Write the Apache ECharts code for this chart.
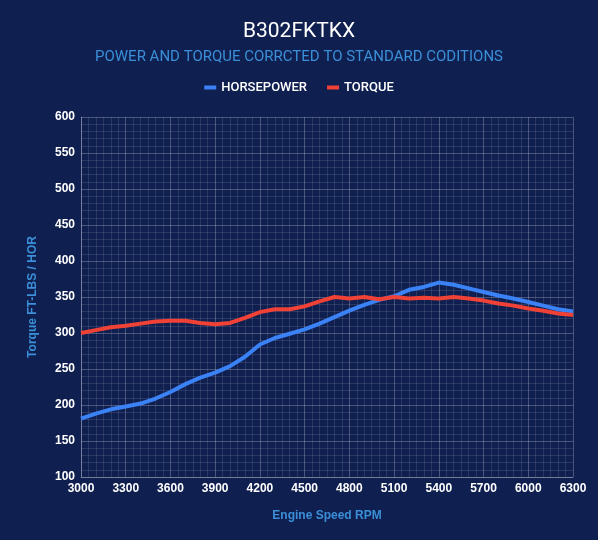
<!DOCTYPE html>
<html>
<head>
<meta charset="utf-8">
<script src="https://cdn.jsdelivr.net/npm/echarts@6/dist/echarts.min.js"></script>
<style>
html,body{margin:0;padding:0;background:#0f1f4f;}
#c{width:598px;height:540px;}
</style>
</head>
<body>
<div id="c"></div>
<script>
const rpm = [3000,3100,3200,3300,3400,3500,3600,3700,3800,3900,4000,4100,4200,4300,4400,4500,4600,4700,4800,4900,5000,5100,5200,5300,5400,5500,5600,5700,5800,5900,6000,6100,6200,6300];
const horsepower = [181,188,194,198,202,209,218,229,238,245,254,267,284,293,299,305,313,322,331,339,346,351,360,364,370,367,362,357,352,348,343,338,333,330];
const torque = [300,304,308,310,313,316,317,317,314,312,314,321,329,333,333,337,344,350,348,350,347,350,348,349,348,350,348,345,341,338,334,331,327,325];
const xTicks = {min:3000, max:6300, interval:300};
const yTicks = {min:100, max:600, interval:50};

const toPairs = (ys) => rpm.map((r,i)=>[r,ys[i]]);
const chart = echarts.init(document.getElementById('c'));
const major = 'rgba(255,255,255,0.24)';
const minor = 'rgba(255,255,255,0.11)';
chart.setOption({
  backgroundColor:'#0f1f4f',
  animation:false,
  title:{
    text:'B302FKTKX',
    subtext:'POWER AND TORQUE CORRCTED TO STANDARD CODITIONS',
    left:'center', top:16, itemGap:8,
    textStyle:{color:'#ffffff',fontSize:21,fontWeight:'normal',fontFamily:'Roboto'},
    subtextStyle:{color:'#3b8fd8',fontSize:15,fontFamily:'Roboto'}
  },
  legend:{
    top:76, left:'center', itemWidth:12, itemHeight:4, itemGap:20,
    icon:'rect',
    textStyle:{color:'#ffffff',fontSize:13,fontWeight:'500',fontFamily:'Roboto'},
    data:['HORSEPOWER','TORQUE']
  },
  grid:{left:81,right:25,top:117,bottom:63},
  xAxis:{
    type:'value', min:xTicks.min, max:xTicks.max, interval:xTicks.interval,
    name:'Engine Speed RPM', nameLocation:'middle', nameGap:33,
    nameTextStyle:{color:'#3b8fd8',fontSize:12,fontWeight:'bold',fontFamily:'Liberation Sans'},
    axisLine:{show:true,lineStyle:{color:major}},
    axisTick:{show:false},
    axisLabel:{color:'#ffffff',fontSize:12,fontWeight:'bold',fontFamily:'Liberation Sans',margin:6,
      formatter:(v)=>String(v)},
    splitLine:{show:true,lineStyle:{color:major,width:1}},
    minorTick:{show:false,splitNumber:6},
    minorSplitLine:{show:true,lineStyle:{color:minor,width:1}}
  },
  yAxis:{
    type:'value', min:yTicks.min, max:yTicks.max, interval:yTicks.interval,
    name:'Torque FT-LBS / HOR', nameLocation:'middle', nameGap:42,
    nameTextStyle:{color:'#3b8fd8',fontSize:12,fontWeight:'bold',fontFamily:'Liberation Sans'},
    axisLine:{show:true,lineStyle:{color:major}},
    axisTick:{show:false},
    axisLabel:{color:'#ffffff',fontSize:12,fontWeight:'bold',fontFamily:'Liberation Sans',margin:6},
    splitLine:{show:true,lineStyle:{color:major,width:1}},
    minorTick:{show:false,splitNumber:5},
    minorSplitLine:{show:true,lineStyle:{color:minor,width:1}}
  },
  series:[
    {name:'HORSEPOWER',type:'line',data:toPairs(horsepower),showSymbol:false,
     lineStyle:{color:'#3b82f6',width:4},itemStyle:{color:'#3b82f6'}},
    {name:'TORQUE',type:'line',data:toPairs(torque),showSymbol:false,
     lineStyle:{color:'#ef4136',width:4},itemStyle:{color:'#ef4136'}}
  ]
});
</script>
</body>
</html>
